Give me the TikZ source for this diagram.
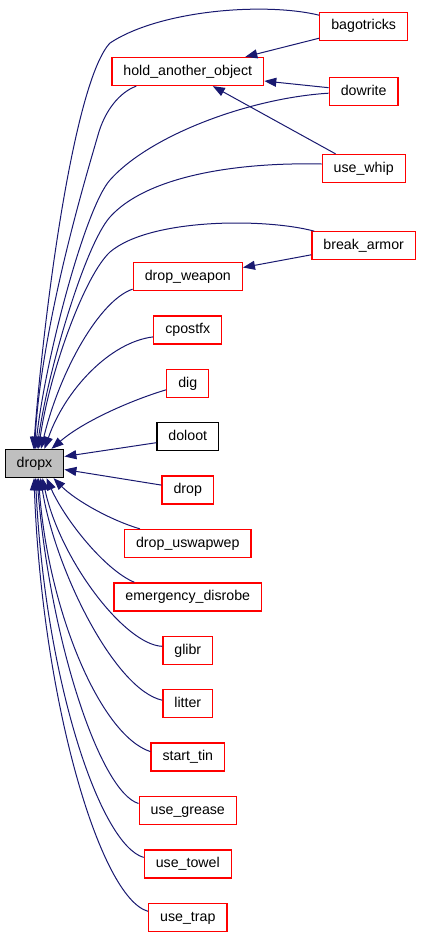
\documentclass[tikz,border=0pt]{standalone}
\usepackage{fontspec}
\setmainfont{Liberation Sans}
\usetikzlibrary{arrows.meta, positioning}
\definecolor{callblue}{RGB}{25, 25, 112}
\definecolor{rootgray}{RGB}{191, 191, 191}

\begin{document}
\begin{tikzpicture}[
    x=1pt, y=1pt,
    node distance=24.1pt,
    fn/.style={draw=red, rectangle, line width=1.3pt, minimum height=28pt, inner xsep=11.5pt, inner ysep=0pt,
        text height=10.5pt, text depth=3pt, font=\fontsize{14.2}{16}\selectfont},
    nodoc/.style={fn, draw=black},
    root/.style={fn, draw=black, fill=rootgray},
    call/.style={-{Triangle[length=12pt, width=9pt]}, color=callblue, line width=1pt}
]
\useasboundingbox (0,0) rectangle (421,-937);

% function being called
\node[root] (dropx) at (34.5,-463.5) {dropx};

% callers further out (right column)
\node[fn] (bagotricks) at (363.7,-26.2) {bagotricks};
\node[fn] (dowrite) at (363.7,-91.7) {dowrite};
\node[fn] (usewhip) at (363.7,-168.5) {use\_whip};
\node[fn] (breakarmor) at (363.7,-245.8) {break\_armor};

% direct callers (middle column)
\node[fn] (hold) at (187.8,-71.5) {hold\_another\_object};
\node[fn] (dropweapon) at (187.8,-276.5) {drop\_weapon};
\node[fn, below=of dropweapon] (cpostfx) {cpostfx};
\node[fn, below=of cpostfx] (dig) {dig};
\node[nodoc, below=of dig] (doloot) {doloot};
\node[fn, below=of doloot] (drop) {drop};
\node[fn, below=of drop] (dropuswapwep) {drop\_uswapwep};
\node[fn, below=of dropuswapwep] (disrobe) {emergency\_disrobe};
\node[fn, below=of disrobe] (glibr) {glibr};
\node[fn, below=of glibr] (litter) {litter};
\node[fn, below=of litter] (starttin) {start\_tin};
\node[fn, below=of starttin] (usegrease) {use\_grease};
\node[fn, below=of usegrease] (usetowel) {use\_towel};
\node[fn, below=of usetowel] (usetrap) {use\_trap};

% second level calls
\draw[call] ([yshift=-12pt]bagotricks.west) -- ([xshift=-19pt]hold.north east);
\draw[call] ([yshift=4pt]dowrite.west) -- ([yshift=-9.5pt]hold.east);
\draw[call] ([xshift=14pt]usewhip.north west) -- ([xshift=25pt]hold.south);
\draw[call] ([yshift=-9pt]breakarmor.west) -- ([yshift=9pt]dropweapon.east);

% calls into dropx from above
\draw[call] ([yshift=11pt]bagotricks.west) .. controls (265,-2) and (160,-10) .. (110,-43)
    .. controls (75,-80) and (45,-300) .. ([xshift=-1pt]dropx.north);
\draw[call] ([xshift=25pt]hold.south west) .. controls (120,-92) and (105,-110) .. (98,-135)
    .. controls (88,-170) and (42,-320) .. (dropx.north);
\draw[call] ([yshift=-1.5pt]dowrite.west) .. controls (250,-98) and (150,-135) .. (110,-180)
    .. controls (85,-208) and (45,-360) .. ([xshift=1pt]dropx.north);
\draw[call] ([yshift=4.5pt]usewhip.west) .. controls (230,-162) and (145,-178) .. (110,-217)
    .. controls (85,-245) and (48,-370) .. ([xshift=2.5pt]dropx.north);
\draw[call] ([xshift=3pt]breakarmor.north west) .. controls (265,-218) and (150,-218) .. (110,-252)
    .. controls (85,-275) and (50,-370) .. ([xshift=4pt]dropx.north);
\draw[call] ([yshift=2pt]dropweapon.south west) .. controls (100,-300) and (60,-370) .. ([xshift=6.5pt]dropx.north);
\draw[call] ([yshift=-7pt]cpostfx.west) .. controls (110,-342) and (65,-390) .. ([xshift=10pt]dropx.north);
\draw[call] ([yshift=-6.5pt]dig.west) .. controls (135,-399) and (85,-420) .. ([xshift=17pt]dropx.north);

% calls from the side
\draw[call] ([yshift=-6pt]doloot.west) -- ([yshift=7pt]dropx.east);
\draw[call] ([yshift=5pt]drop.west) -- ([yshift=-6pt]dropx.east);

% calls into dropx from below
\draw[call] ([xshift=16pt]dropuswapwep.north west) .. controls (110,-520) and (75,-500) .. ([xshift=19pt]dropx.south);
\draw[call] ([xshift=21pt]disrobe.north west) .. controls (105,-570) and (65,-520) .. ([xshift=12pt]dropx.south);
\draw[call] ([yshift=4pt]glibr.west) .. controls (125,-645) and (60,-560) .. ([xshift=8pt]dropx.south);
\draw[call] ([yshift=3.5pt]litter.west) .. controls (115,-690) and (55,-570) .. ([xshift=6pt]dropx.south);
\draw[call] ([yshift=5.5pt]starttin.west) .. controls (100,-735) and (48,-610) .. ([xshift=4pt]dropx.south);
\draw[call] ([yshift=7pt]usegrease.west) .. controls (100,-792) and (50,-640) .. ([xshift=2.5pt]dropx.south);
\draw[call] ([yshift=6.5pt]usetowel.west) .. controls (100,-845) and (45,-680) .. ([xshift=1pt]dropx.south);
\draw[call] ([yshift=6pt]usetrap.west) .. controls (100,-898) and (42,-700) .. ([xshift=-0.5pt]dropx.south);

\end{tikzpicture}
\end{document}
